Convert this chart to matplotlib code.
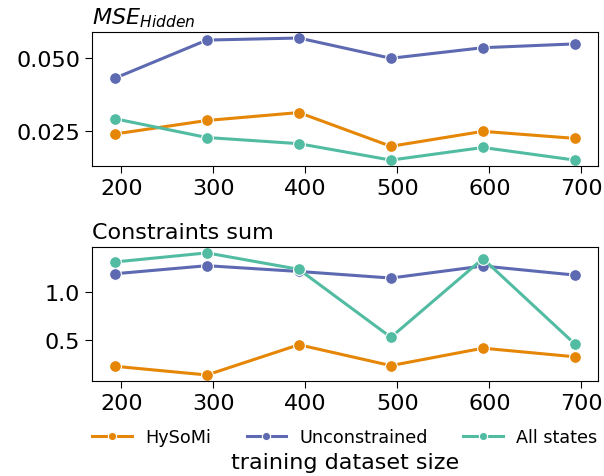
import matplotlib
matplotlib.use("Agg")
import matplotlib.pyplot as plt

sizes = [193, 293, 393, 493, 593, 693]
labels = ["HySoMi", "Unconstrained", "All states"]
colors = ["#E58606", "#5D69B1", "#52BCA3"]

mse_hysomi = [0.0241, 0.0287, 0.0314, 0.0199, 0.0250, 0.0226]
mse_unconstrained = [0.0431, 0.0561, 0.0568, 0.0499, 0.0535, 0.0548]
mse_all_states = [0.0293, 0.0229, 0.0208, 0.0152, 0.0195, 0.0152]

cons_hysomi = [0.226, 0.135, 0.451, 0.233, 0.415, 0.325]
cons_unconstrained = [1.193, 1.277, 1.217, 1.148, 1.274, 1.179]
cons_all_states = [1.316, 1.411, 1.239, 0.529, 1.351, 0.458]

plt.rcParams['font.family'] = ['DejaVu Sans']

fig, (ax1, ax2) = plt.subplots(2, 1, figsize=(6.04, 4.77), dpi=100)
fig.subplots_adjust(left=0.152, right=0.990, top=0.931, bottom=0.199, hspace=0.6)

def draw(ax, series):
    for vals, lab, c in zip(series, labels, colors):
        ax.plot(sizes, vals, color=c, lw=2.2, marker='o', ms=8.5,
                mec='white', mew=0.8, label=lab)
    ax.tick_params(labelsize=16, length=5)
    ax.set_xticks([200, 300, 400, 500, 600, 700])

draw(ax1, [mse_hysomi, mse_unconstrained, mse_all_states])
ax1.set_yticks([0.025, 0.050])
ax1.set_yticklabels(["0.025", "0.050"])
ax1.set_title(r"$MSE_{Hidden}$", loc='left', fontsize=16, pad=6)

draw(ax2, [cons_hysomi, cons_unconstrained, cons_all_states])
ax2.set_yticks([0.5, 1.0])
ax2.set_yticklabels(["0.5", "1.0"])
ax2.set_title("Constraints sum", loc='left', fontsize=16, pad=6)
ax2.set_xlabel("training dataset size", fontsize=16, labelpad=28)

ax2.legend(loc='upper center', bbox_to_anchor=(0.5, -0.295), ncol=3,
           frameon=False, fontsize=12.7, handlelength=2.25, columnspacing=2.0,
           handletextpad=0.75, borderaxespad=0, markerscale=0.7)

fig.savefig("out.png", dpi=100)
